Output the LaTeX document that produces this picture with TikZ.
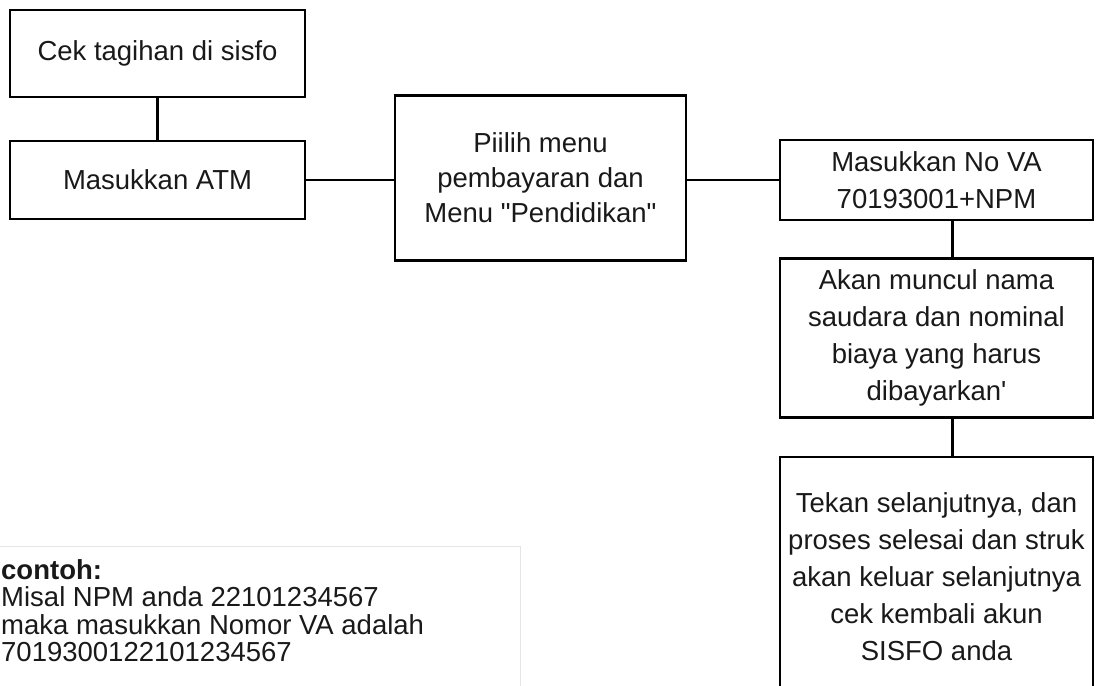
\documentclass[tikz,border=0pt]{standalone}
\usepackage{fontspec}
\setmainfont{Liberation Sans}[Ligatures=TeXOff]
\begin{document}
\begin{tikzpicture}[x=1pt,y=-1pt,
  box/.style={draw=black, line width=2.8pt, align=center, inner sep=0pt,
    font=\fontsize{27.5}{37}\selectfont, text=black!90},
  link/.style={draw=black, line width=2.8pt},
  note/.style={align=left, inner sep=0pt, anchor=north west,
    font=\fontsize{27.5}{27.5}\selectfont, text=black!90}]
\useasboundingbox (0,0) rectangle (1096,686);
\clip (0,0) rectangle (1096,686);
% faint frame of the example
\draw[draw=black!10, line width=1pt] (0,546) -- (520,546) -- (520,690);
\node[box, minimum width=295pt, minimum height=87pt] (b1) at (157.5,53.5) {Cek tagihan di sisfo};
\node[box, minimum width=295pt, minimum height=78pt] (b2) at (157.5,180) {Masukkan ATM};
\node[box, minimum width=291pt, minimum height=165pt, font=\fontsize{27.5}{35}\selectfont] (b3) at (540.5,178)
  {Piilih menu\\pembayaran dan\\Menu "Pendidikan"};
\node[box, minimum width=313pt, minimum height=80pt] (b4) at (936.5,180)
  {Masukkan No VA\\70193001+NPM};
\node[box, minimum width=313pt, minimum height=159pt, font=\fontsize{27.5}{37}\selectfont] (b5) at (936.5,338)
  {Akan muncul nama\\saudara dan nominal\\biaya yang harus\\dibayarkan'};
\node[box, minimum width=313pt, minimum height=240pt, font=\fontsize{27.5}{37}\selectfont] (b6) at (936.5,577)
  {Tekan selanjutnya, dan\\proses selesai dan struk\\akan keluar selanjutnya\\cek kembali akun\\SISFO anda};
\draw[link] (b1.south) -- (b2.north);
\draw[link] (b2.east) -- (b2.east -| b3.west);
\draw[link] (b4.west -| b3.east) -- (b4.west);
\draw[link] ([xshift=16pt]b4.south) -- ([xshift=16pt]b5.north);
\draw[link] ([xshift=16pt]b5.south) -- ([xshift=16pt]b6.north);
\node[note] (ex) at (1,559)
  {\textbf{contoh:}\\Misal NPM anda 22101234567\\maka masukkan Nomor VA adalah\\7019300122101234567};
\end{tikzpicture}
\end{document}
